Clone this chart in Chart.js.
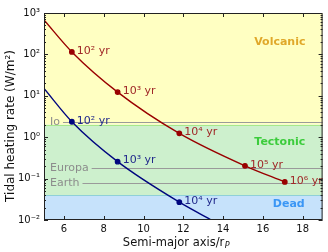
<!DOCTYPE html>
<html>
<head>
<meta charset="utf-8">
<script src="https://cdn.jsdelivr.net/npm/chart.js@4/dist/chart.umd.min.js"></script>
<style>
  html, body { margin: 0; padding: 0; background: #fff; }
  #wrap { width: 328px; height: 252px; }
</style>
</head>
<body>
<div id="wrap"><canvas id="c" width="328" height="252"></canvas></div>
<script>
// values
const xTicks = [6, 8, 10, 12, 14, 16, 18];
const redX = [5, 6.4, 8.7, 11.8, 15.1, 17.1];
const redY = [680, 115, 12.3, 1.24, 0.204, 0.083];
const redNotes = ['', '10² yr', '10³ yr', '10⁴ yr', '10⁵ yr', '10⁶ yr'];
const blueX = [5, 6.4, 8.7, 11.8, 13.5];
const blueY = [15, 2.36, 0.257, 0.027, 0.0095];
const blueNotes = ['', '10² yr', '10³ yr', '10⁴ yr', ''];
const refNames = ['Io', 'Europa', 'Earth'];
const refValues = [2.3, 0.178, 0.077];
const zoneNames = ['Volcanic', 'Tectonic', 'Dead'];
const zoneLimits = [2.0, 0.04];
const zoneLabelX = [16.85, 16.85, 17.3];
const zoneLabelY = [200, 0.78, 0.024];

const sup = { '-': '⁻', '0': '⁰', '1': '¹', '2': '²', '3': '³', '4': '⁴', '5': '⁵', '6': '⁶', '7': '⁷', '8': '⁸', '9': '⁹' };
function powLabel(v) {
    const e = Math.round(Math.log10(v));
    if (Math.abs(Math.log10(v) - e) > 1e-6) return '';
    return '10' + String(e).split('').map(c => sup[c]).join('');
}

const FONT = "'DejaVu Sans', sans-serif";

function pts(xs, ys) {
    return xs.map((x, i) => ({ x: x, y: ys[i] }));
}

const decor = {
    id: 'decor',
    beforeDatasetsDraw(chart) {
        const { ctx, chartArea: a, scales } = chart;
        const x = scales.x, y = scales.y;
        const y1 = y.getPixelForValue(zoneLimits[0]);
        const y2 = y.getPixelForValue(zoneLimits[1]);
        ctx.save();
        ctx.fillStyle = '#ffffc2';
        ctx.fillRect(a.left, a.top, a.right - a.left, y1 - a.top);
        ctx.fillStyle = '#cdf0cd';
        ctx.fillRect(a.left, y1, a.right - a.left, y2 - y1);
        ctx.fillStyle = '#c6e2fb';
        ctx.fillRect(a.left, y2, a.right - a.left, a.bottom - y2);
        ctx.lineWidth = 1;
        ctx.strokeStyle = '#a6e88a';
        ctx.beginPath(); ctx.moveTo(a.left, Math.round(y1) + 0.5); ctx.lineTo(a.right, Math.round(y1) + 0.5); ctx.stroke();
        ctx.strokeStyle = '#8fd0d8';
        ctx.beginPath(); ctx.moveTo(a.left, Math.round(y2) + 0.5); ctx.lineTo(a.right, Math.round(y2) + 0.5); ctx.stroke();

        // reference bodies
        ctx.font = '11px ' + FONT;
        ctx.textBaseline = 'middle';
        ctx.textAlign = 'left';
        refNames.forEach((n, i) => {
            const py = Math.round(y.getPixelForValue(refValues[i])) + 0.5;
            const tx = a.left + 6;
            const w = ctx.measureText(n).width;
            ctx.fillStyle = '#8c8c8c';
            ctx.fillText(n, tx, py);
            ctx.strokeStyle = '#9a9a9a';
            ctx.beginPath(); ctx.moveTo(tx + w + 3, py); ctx.lineTo(a.right, py); ctx.stroke();
        });

        // zone names
        ctx.font = 'bold 11px ' + FONT;
        ctx.textAlign = 'center';
        const zc = ['#e0a82a', '#3ccc3c', '#3a96f5'];
        zoneNames.forEach((n, i) => {
            ctx.fillStyle = zc[i];
            ctx.fillText(n, x.getPixelForValue(zoneLabelX[i]), y.getPixelForValue(zoneLabelY[i]));
        });
        ctx.restore();
    },
    afterDatasetsDraw(chart) {
        const { ctx, chartArea: a, scales } = chart;
        const x = scales.x, y = scales.y;
        ctx.save();
        ctx.font = '11px ' + FONT;
        ctx.textAlign = 'left';
        ctx.textBaseline = 'middle';
        [[redX, redY, redNotes, '#a02828'], [blueX, blueY, blueNotes, '#222a8c']].forEach(s => {
            ctx.fillStyle = s[3];
            s[2].forEach((t, i) => {
                if (!t) return;
                ctx.fillText(t, x.getPixelForValue(s[0][i]) + 5, y.getPixelForValue(s[1][i]) - 1);
            });
        });

        // frame and inward ticks
        ctx.strokeStyle = '#222';
        ctx.lineWidth = 1;
        ctx.strokeRect(a.left + 0.5, a.top + 0.5, a.right - a.left - 1, a.bottom - a.top - 1);
        ctx.beginPath();
        xTicks.forEach(v => {
            const px = Math.round(x.getPixelForValue(v)) + 0.5;
            ctx.moveTo(px, a.bottom); ctx.lineTo(px, a.bottom - 4);
            ctx.moveTo(px, a.top); ctx.lineTo(px, a.top + 4);
        });
        for (let d = -2; d < 3; d++) {
            for (let m = 1; m < 10; m++) {
                const py = Math.round(y.getPixelForValue(m * Math.pow(10, d))) + 0.5;
                const len = m === 1 ? 4 : 2;
                ctx.moveTo(a.left, py); ctx.lineTo(a.left + len, py);
                ctx.moveTo(a.right, py); ctx.lineTo(a.right - len, py);
            }
        }
        ctx.stroke();

        // axis titles
        ctx.fillStyle = '#111';
        ctx.textBaseline = 'alphabetic';
        ctx.font = '11.5px ' + FONT;
        const main = 'Semi-major axis/r';
        const mw = ctx.measureText(main).width;
        ctx.font = 'italic 8px ' + FONT;
        const sw = ctx.measureText('P').width;
        const sx = 176 - (mw + sw) / 2;
        ctx.font = '11.5px ' + FONT;
        ctx.fillText(main, sx, 246);
        ctx.font = 'italic 8px ' + FONT;
        ctx.fillText('P', sx + mw + 0.5, 248);

        ctx.translate(11, 126);
        ctx.rotate(-Math.PI / 2);
        ctx.textAlign = 'center';
        ctx.textBaseline = 'middle';
        ctx.font = '12px ' + FONT;
        ctx.fillText('Tidal heating rate (W/m²)', 0, 0);
        ctx.restore();
    }
};

new Chart(document.getElementById('c'), {
    type: 'line',
    data: {
        datasets: [
            {
                data: pts(redX, redY),
                borderColor: '#990000',
                backgroundColor: '#990000',
                borderWidth: 1.4,
                pointRadius: redNotes.map(t => t ? 2.2 : 0),
                pointStyle: 'circle',
                cubicInterpolationMode: 'monotone',
                fill: false
            },
            {
                data: pts(blueX, blueY),
                borderColor: '#00067f',
                backgroundColor: '#00067f',
                borderWidth: 1.4,
                pointRadius: blueNotes.map(t => t ? 2.2 : 0),
                pointStyle: 'circle',
                cubicInterpolationMode: 'monotone',
                fill: false
            }
        ]
    },
    options: {
        responsive: false,
        animation: false,
        events: [],
        layout: { padding: { top: 13, right: 5, left: 0, bottom: 0 } },
        plugins: { legend: { display: false }, tooltip: { enabled: false } },
        scales: {
            x: {
                type: 'linear',
                min: 5,
                max: 19,
                afterBuildTicks(s) { s.ticks = xTicks.map(v => ({ value: v })); },
                afterFit(s) { s.height = 32; },
                grid: { display: false, drawTicks: false },
                border: { display: false },
                ticks: { padding: 3, color: '#111', font: { family: FONT, size: 10 }, maxRotation: 0, autoSkip: false }
            },
            y: {
                type: 'logarithmic',
                min: 0.01,
                max: 1000,
                afterFit(s) { s.width = 44; },
                grid: { display: false, drawTicks: false },
                border: { display: false },
                ticks: {
                    padding: 4,
                    color: '#111',
                    autoSkip: false,
                    font: { family: FONT, size: 10 },
                    callback: v => powLabel(v)
                }
            }
        }
    },
    plugins: [decor]
});
</script>
</body>
</html>
